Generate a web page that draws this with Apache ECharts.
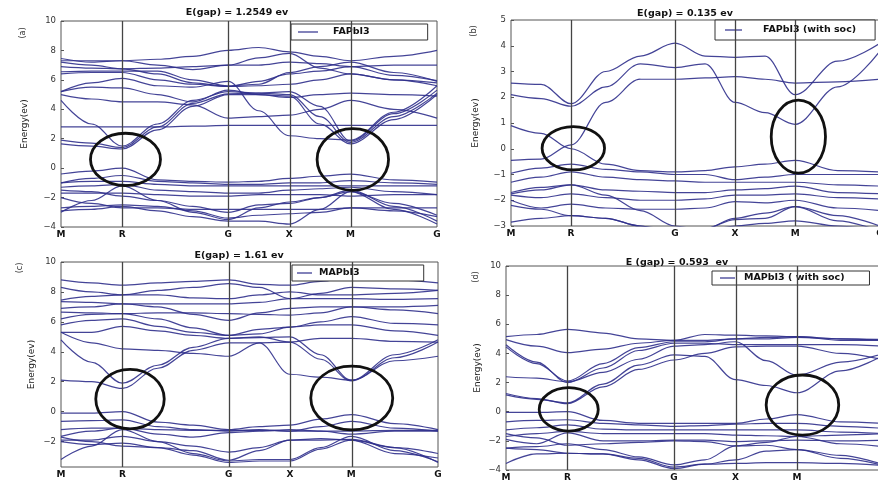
<!DOCTYPE html>
<html><head><meta charset="utf-8">
<script src="https://cdn.jsdelivr.net/npm/echarts@6/dist/echarts.min.js"></script>
<style>html,body{margin:0;padding:0;background:#fff}#c{width:878px;height:483px}</style>
</head><body><div id="c"></div><script>
// High-symmetry path M-R-G-X-M-G (k-distance, cubic units)
const kPoints = [0, 0.5, 1.366, 1.866, 2.366, 3.073];
const kLabels = ['M', 'R', 'G', 'X', 'M', 'G'];
// k positions at which band energies were read
const kSample = [0, 0.25, 0.5, 0.789, 1.077, 1.366, 1.616, 1.866, 2.116, 2.366, 2.72, 3.073];

// (a) FAPbI3
const bandsFA = [
  [-3.0, -2.2, -1.2, -2.2, -3.0, -3.5, -2.7, -2.3, -2.0, -1.5, -2.6, -3.6],
  [-2.9, -2.8, -2.6, -2.9, -3.3, -3.6, -3.6, -3.8, -2.8, -1.6, -2.8, -3.8],
  [-2.7, -2.6, -2.5, -2.6, -2.9, -3.4, -3.2, -3.1, -3.0, -2.7, -2.9, -3.3],
  [-2.0, -2.4, -2.7, -2.7, -2.8, -2.8, -2.8, -2.8, -2.8, -2.7, -2.7, -2.7],
  [-1.7, -1.7, -1.7, -1.8, -1.9, -1.9, -1.8, -1.8, -1.8, -1.9, -1.8, -1.8],
  [-1.5, -1.6, -1.9, -2.2, -2.6, -3.0, -2.5, -2.4, -2.0, -1.6, -2.4, -3.2],
  [-1.3, -1.2, -1.1, -1.5, -1.6, -1.7, -1.7, -1.5, -1.4, -1.3, -1.6, -1.8],
  [-1.0, -0.9, -0.9, -1.1, -1.2, -1.2, -1.2, -1.2, -1.2, -1.2, -1.2, -1.2],
  [-1.0, -0.7, -0.5, -0.9, -1.0, -1.1, -1.1, -1.0, -1.0, -0.85, -1.0, -1.1],
  [-0.4, -0.2, 0.0, -0.8, -0.9, -0.95, -0.9, -0.7, -0.55, -0.4, -0.8, -0.95],
  [1.65, 1.5, 1.3, 2.6, 4.2, 5.0, 5.0, 4.9, 3.0, 1.65, 3.3, 5.0],
  [1.9, 1.7, 1.4, 2.8, 4.4, 5.05, 5.1, 5.0, 3.5, 1.75, 3.5, 5.1],
  [4.6, 3.0, 1.5, 3.0, 4.6, 5.2, 5.1, 5.2, 4.2, 1.85, 3.7, 5.3],
  [2.8, 2.8, 2.8, 2.8, 2.85, 2.9, 2.9, 2.9, 2.9, 2.9, 2.9, 2.9],
  [5.0, 4.7, 4.5, 4.5, 4.3, 3.4, 3.5, 3.6, 4.0, 4.6, 4.0, 3.4],
  [5.2, 5.5, 5.45, 5.0, 4.5, 5.3, 5.0, 4.8, 5.0, 5.1, 5.0, 4.9],
  [5.2, 5.8, 6.1, 5.6, 5.5, 5.9, 3.9, 2.2, 2.0, 1.9, 3.8, 5.6],
  [6.4, 6.5, 6.5, 6.0, 5.7, 5.55, 5.6, 5.7, 6.0, 6.4, 6.0, 5.6],
  [6.55, 6.6, 6.6, 6.6, 6.0, 5.6, 5.7, 6.5, 6.9, 7.2, 6.5, 5.9],
  [6.9, 6.8, 6.75, 6.4, 5.8, 5.55, 5.9, 6.4, 6.6, 6.9, 6.3, 5.95],
  [7.2, 7.0, 6.75, 6.8, 6.9, 7.0, 7.0, 7.2, 7.1, 6.9, 7.0, 7.0],
  [7.45, 7.2, 7.3, 7.4, 7.6, 8.0, 8.2, 7.9, 7.6, 7.3, 7.6, 8.0],
  [7.3, 7.3, 7.3, 7.0, 6.7, 7.0, 7.5, 7.8, 6.8, 6.4, 6.0, 5.8]
];
// (b) FAPbI3 with SOC
const bandsFAsoc = [
  [2.55, 2.5, 1.75, 3.0, 3.6, 4.1, 3.6, 3.55, 3.6, 2.1, 3.4, 4.1],
  [2.1, 1.95, 1.65, 2.4, 3.3, 3.15, 3.3, 1.8, 1.4, 0.95, 2.4, 3.8],
  [-0.45, -0.4, 0.15, 1.8, 2.7, 2.7, 2.75, 2.8, 2.7, 2.55, 2.6, 2.7],
  [0.9, 0.6, 0.0, -0.6, -0.85, -0.9, -0.85, -0.7, -0.6, -0.45, -0.85, -0.9],
  [-0.95, -0.75, -0.6, -0.8, -0.9, -1.0, -1.0, -1.2, -1.1, -1.0, -1.0, -1.0],
  [-1.3, -1.1, -0.9, -1.1, -1.2, -1.25, -1.3, -1.3, -1.3, -1.3, -1.4, -1.45],
  [-1.7, -1.5, -1.4, -1.6, -1.65, -1.7, -1.7, -1.6, -1.55, -1.45, -1.7, -1.75],
  [-1.8, -1.9, -1.75, -1.9, -2.0, -2.0, -1.95, -1.8, -1.8, -1.75, -1.9, -1.95],
  [-2.0, -2.3, -2.15, -2.3, -2.35, -2.35, -2.3, -2.05, -2.1, -2.0, -2.3, -2.4],
  [-2.2, -2.35, -2.6, -2.7, -3.0, -3.3, -3.1, -2.7, -2.5, -2.25, -2.6, -3.0],
  [-2.85, -2.7, -2.6, -2.7, -3.0, -3.2, -3.1, -2.75, -2.7, -2.25, -2.8, -3.2],
  [-1.75, -1.6, -1.4, -1.8, -2.4, -3.0, -3.2, -3.0, -2.9, -2.8, -3.0, -3.2]
];
// (c) MAPbI3
const bandsMA = [
  [2.1, 2.0, 1.55, 2.9, 4.1, 4.6, 4.6, 4.65, 3.5, 2.05, 3.6, 4.65],
  [4.8, 3.3, 1.9, 3.1, 4.3, 4.9, 4.95, 5.0, 3.8, 2.1, 3.8, 4.8],
  [5.3, 4.6, 4.2, 4.1, 3.9, 3.7, 4.6, 2.5, 2.3, 2.1, 3.4, 3.7],
  [5.8, 6.1, 6.2, 5.7, 5.3, 5.1, 5.2, 5.65, 5.8, 5.8, 5.4, 5.1],
  [6.2, 6.5, 6.55, 6.2, 5.6, 5.1, 5.5, 5.65, 6.0, 6.35, 5.9, 5.8],
  [6.65, 6.6, 6.55, 6.6, 6.6, 6.55, 6.5, 6.45, 6.6, 7.0, 6.8, 6.55],
  [6.9, 7.0, 7.2, 7.0, 6.5, 6.1, 6.6, 6.9, 7.0, 7.0, 7.0, 7.1],
  [7.35, 7.3, 7.2, 7.2, 7.2, 7.2, 7.3, 7.55, 7.55, 7.55, 7.5, 7.55],
  [7.45, 7.7, 7.8, 7.8, 7.6, 7.55, 7.8, 8.0, 7.8, 7.8, 7.9, 8.1],
  [8.3, 8.0, 7.8, 8.1, 8.3, 8.55, 8.3, 7.55, 7.9, 8.3, 8.2, 8.1],
  [8.8, 8.6, 8.45, 8.6, 8.7, 8.8, 8.5, 8.45, 8.7, 9.0, 8.8, 8.6],
  [5.3, 5.3, 5.7, 5.4, 5.1, 4.9, 5.0, 4.65, 4.9, 4.9, 4.7, 4.65],
  [-0.1, -0.1, 0.0, -0.7, -0.9, -1.2, -1.0, -0.9, -0.5, -0.2, -0.8, -1.2],
  [-0.65, -0.6, -0.55, -1.0, -1.2, -1.3, -1.2, -1.3, -1.0, -0.65, -1.1, -1.3],
  [-1.2, -1.1, -1.1, -1.2, -1.25, -1.25, -1.25, -1.3, -1.3, -1.3, -1.25, -1.25],
  [-1.65, -1.3, -1.1, -1.5, -1.7, -1.4, -1.3, -1.2, -1.3, -1.5, -1.3, -1.3],
  [-1.9, -1.9, -1.65, -2.0, -2.3, -2.7, -2.4, -1.9, -1.8, -1.9, -2.4, -2.8],
  [-3.2, -2.3, -1.2, -2.0, -2.8, -3.3, -3.2, -3.2, -2.4, -1.65, -2.6, -3.35],
  [-1.7, -2.0, -2.3, -2.4, -2.9, -3.4, -3.3, -3.3, -2.5, -1.9, -2.8, -3.1],
  [-2.0, -2.2, -2.1, -2.4, -2.6, -3.25, -2.6, -1.9, -1.9, -1.85, -2.4, -3.4]
];
// (d) MAPbI3 with SOC
const bandsMAsoc = [
  [1.25, 0.9, 0.55, 1.7, 2.9, 3.55, 4.0, 4.45, 4.5, 4.5, 4.0, 3.55],
  [1.15, 0.85, 0.6, 1.9, 3.2, 3.9, 3.8, 2.2, 1.8, 1.3, 2.8, 3.9],
  [2.4, 2.3, 2.05, 2.7, 3.6, 4.5, 4.6, 4.8, 3.5, 2.5, 3.4, 4.0],
  [4.6, 3.4, 2.0, 3.0, 4.2, 4.7, 4.7, 4.6, 4.6, 4.6, 4.6, 4.5],
  [4.45, 3.3, 2.1, 3.3, 4.4, 4.8, 4.8, 5.0, 5.1, 5.15, 4.9, 4.9],
  [4.95, 4.5, 4.05, 4.3, 4.7, 4.9, 4.9, 5.0, 5.0, 5.1, 5.0, 4.9],
  [5.15, 5.3, 5.65, 5.4, 5.0, 4.9, 5.3, 5.25, 5.2, 5.15, 5.0, 4.95],
  [-0.05, -0.05, 0.0, -0.6, -0.8, -0.8, -0.8, -0.8, -0.5, -0.2, -0.7, -0.8],
  [-0.7, -0.6, -0.55, -0.8, -0.9, -1.0, -0.95, -0.85, -0.8, -0.8, -1.0, -1.15],
  [-1.25, -1.1, -0.9, -1.2, -1.25, -1.25, -1.25, -1.25, -1.25, -1.25, -1.4, -1.5],
  [-1.7, -1.5, -1.35, -1.5, -1.5, -1.5, -1.5, -1.6, -1.65, -1.7, -1.6, -1.5],
  [-1.9, -2.2, -1.45, -2.0, -2.0, -1.95, -1.95, -2.05, -2.0, -1.95, -2.0, -1.95],
  [-2.5, -2.4, -2.2, -2.6, -3.1, -3.65, -3.3, -2.35, -2.3, -2.6, -3.0, -3.65],
  [-3.55, -2.9, -2.85, -2.9, -3.3, -3.9, -3.6, -3.3, -2.7, -2.6, -3.2, -3.7],
  [-2.5, -2.6, -2.85, -2.9, -3.2, -3.8, -3.6, -3.55, -3.5, -3.5, -3.55, -3.7],
  [-1.5, -1.8, -2.3, -2.2, -2.1, -2.0, -2.05, -2.35, -2.1, -1.7, -2.2, -2.4]
];

const panelBands = [bandsFA, bandsFAsoc, bandsMA, bandsMAsoc];
const titles = ['E(gap) = 1.2549 ev', 'E(gap) = 0.135 ev', 'E(gap) = 1.61 ev', 'E (gap) = 0.593  ev'];
const legendNames = ['FAPbI3', 'FAPbI3 (with soc)', 'MAPbI3', 'MAPbI3 ( with soc)'];
const panelLabels = ['(a)', '(b)', '(c)', '(d)'];
const yMin = [-4, -3, -3.7, -4];
const yMax = [10, 5, 10, 10];
const yTicks = [
  [-4, -2, 0, 2, 4, 6, 8, 10],
  [-3, -2, -1, 0, 1, 2, 3, 4, 5],
  [-2, 0, 2, 4, 6, 8, 10],
  [-4, -2, 0, 2, 4, 6, 8, 10]
];
// highlight ellipses: [k centre, E centre, k half-width, E half-height]
const circles = [
  [[0.527, 0.59, 0.286, 1.78], [2.385, 0.59, 0.292, 2.1]],
  [[0.519, 0.02, 0.26, 0.84], [2.393, 0.47, 0.226, 1.42]],
  [[0.5625, 0.84, 0.279, 1.99], [2.37, 0.91, 0.334, 2.13]],
  [[0.51, 0.16, 0.24, 1.49], [2.41, 0.46, 0.295, 2.06]]
];

// ---- layout / style ----
const grids = [
  {left: 61, top: 21, width: 376, height: 206},
  {left: 511, top: 20, width: 369, height: 206},
  {left: 61, top: 262, width: 377, height: 205},
  {left: 506, top: 266, width: 378, height: 204}
];
const nameGaps = [32, 31, 25, 24];
const titlePos = [[237, 13], [685, 14], [239, 256], [677, 263]];
const labelPos = [[23, 33], [474, 31], [20, 268], [476, 277]];
const legendLayout = [
  {left: 291, top: 24, padding: [2, 58, 2, 7], itemWidth: 20, gap: 10},
  {left: 715, top: 20, padding: [4, 19, 4, 10], itemWidth: 17, gap: 16},
  {left: 292, top: 265, padding: [2, 64, 2, 5], itemWidth: 15, gap: 2},
  {left: 712, top: 271, padding: [1, 25, 1, 8], itemWidth: 15, gap: 4}
];
const LINE = '#30308c';
const FONT = '"DejaVu Sans", "Liberation Sans", sans-serif';

function kLabel(v) {
  let best = 0;
  for (let i = 0; i < kPoints.length; i++) if (Math.abs(kPoints[i] - v) < Math.abs(kPoints[best] - v)) best = i;
  return kLabels[best];
}
const fmtY = v => (v < 0 ? '\u2212' + Math.abs(v) : String(v));

const option = {
  animation: false,
  backgroundColor: '#fff',
  grid: grids.map(g => Object.assign({show: true, borderColor: '#555', borderWidth: 1, backgroundColor: 'transparent',
    containLabel: false, outerBoundsMode: 'none'}, g)),
  xAxis: grids.map((g, i) => ({
    type: 'value', gridIndex: i, min: 0, max: kPoints[kPoints.length - 1],
    axisLine: {show: false}, splitLine: {show: false},
    axisTick: {show: false},
    axisLabel: {customValues: kPoints, formatter: v => kLabel(v), fontFamily: FONT, fontWeight: 'bold', fontSize: 9, color: '#111', margin: 3}
  })),
  yAxis: grids.map((g, i) => ({
    type: 'value', gridIndex: i, min: yMin[i], max: yMax[i],
    name: 'Energy(ev)', nameLocation: 'middle', nameGap: nameGaps[i], nameRotate: 90,
    nameTextStyle: {fontFamily: FONT, fontSize: 9, color: '#222'},
    axisLine: {show: false}, splitLine: {show: false},
    axisTick: {show: true, inside: true, length: 3, customValues: yTicks[i], lineStyle: {color: '#555'}},
    axisLabel: {customValues: yTicks[i], formatter: fmtY, fontFamily: FONT, fontSize: 8.5, color: '#333', margin: 5}
  })),
  legend: legendNames.map((n, i) => ({
    data: [n], left: legendLayout[i].left, top: legendLayout[i].top,
    padding: legendLayout[i].padding, borderColor: '#333', borderWidth: 1, borderRadius: 0,
    backgroundColor: '#fff', selectedMode: false,
    icon: 'rect', itemWidth: legendLayout[i].itemWidth, itemHeight: 1.2,
    textStyle: {fontFamily: FONT, fontSize: 9.5, fontWeight: 'bold', color: '#111', lineHeight: 12, padding: [0, 0, 0, legendLayout[i].gap]}
  })),
  graphic: [
    ...titles.map((t, i) => ({type: 'text', x: titlePos[i][0], y: titlePos[i][1], silent: true,
      style: {text: t, textAlign: 'center', textVerticalAlign: 'middle', font: 'bold 9.5px ' + FONT, fill: '#111'}})),
    ...panelLabels.map((t, i) => ({type: 'text', x: labelPos[i][0], y: labelPos[i][1], rotation: Math.PI / 2, silent: true,
      style: {text: t, textAlign: 'center', textVerticalAlign: 'middle', font: '8px ' + FONT, fill: '#333'}}))
  ],
  series: []
};

panelBands.forEach((bands, p) => {
  bands.forEach((b, j) => {
    const s = {
      type: 'line', name: legendNames[p], xAxisIndex: p, yAxisIndex: p,
      data: kSample.map((k, m) => [k, b[m]]),
      smooth: 0.35, smoothMonotone: 'x', showSymbol: false, symbol: 'none', silent: true,
      color: LINE, lineStyle: {color: LINE, width: 1.2, opacity: 0.9}, z: 2
    };
    if (j === 0) {
      s.markLine = {
        silent: true, symbol: ['none', 'none'], label: {show: false},
        lineStyle: {color: '#444', width: 1.3, type: 'solid'},
        data: kPoints.slice(1, kPoints.length - 1).map(k => ({xAxis: k}))
      };
    }
    option.series.push(s);
  });
  option.series.push({
    type: 'custom', xAxisIndex: p, yAxisIndex: p, silent: true, clip: false, z: 5,
    data: circles[p],
    renderItem: (params, api) => {
      const c = api.coord([api.value(0), api.value(1)]);
      const e = api.coord([api.value(0) + api.value(2), api.value(1) + api.value(3)]);
      return {type: 'ellipse', shape: {cx: c[0], cy: c[1], rx: Math.abs(e[0] - c[0]), ry: Math.abs(e[1] - c[1])},
        style: {fill: 'none', stroke: '#111', lineWidth: 2.8}};
    }
  });
});

const chart = echarts.init(document.getElementById('c'), null, {renderer: 'canvas'});
chart.setOption(option);
</script></body></html>
